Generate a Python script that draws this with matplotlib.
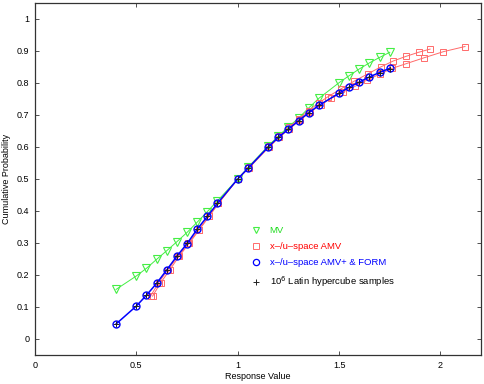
import matplotlib
matplotlib.use("Agg")
import matplotlib.pyplot as plt
from matplotlib.lines import Line2D

plt.rcParams['font.family'] = ['Liberation Sans', 'DejaVu Sans']

# MV (green triangles)
mv_x = [0.4, 0.5, 0.55, 0.6, 0.65, 0.7, 0.75, 0.8, 0.85, 0.9, 1.0, 1.05, 1.15, 1.2,
        1.25, 1.3, 1.35, 1.4, 1.5, 1.55, 1.6, 1.65, 1.7, 1.75]
mv_y = [0.155, 0.197, 0.221, 0.249, 0.276, 0.304, 0.333, 0.365, 0.398, 0.432, 0.5, 0.536,
        0.603, 0.634, 0.663, 0.690, 0.722, 0.752, 0.801, 0.823, 0.844, 0.863, 0.880, 0.896]

# x-space AMV (red squares, upper branch)
amvx_x = [0.57, 0.61, 0.655, 0.705, 0.757, 0.807, 0.858, 0.905, 1.0, 1.055, 1.155, 1.205,
          1.255, 1.30, 1.35, 1.40, 1.445, 1.51, 1.575, 1.643, 1.705, 1.768, 1.829, 1.892, 1.949]
amvx_y = [0.134, 0.176, 0.216, 0.258, 0.300, 0.341, 0.384, 0.424, 0.5, 0.536, 0.603, 0.633,
          0.661, 0.688, 0.714, 0.738, 0.757, 0.782, 0.806, 0.829, 0.850, 0.869, 0.883, 0.896, 0.906]

# u-space AMV (red squares, lower branch)
amvu_x = [0.58, 0.62, 0.665, 0.71, 0.762, 0.81, 0.86, 0.905, 1.0, 1.055, 1.155, 1.205, 1.255,
          1.305, 1.355, 1.41, 1.46, 1.52, 1.58, 1.64, 1.702, 1.763, 1.829, 1.920, 2.015, 2.121]
amvu_y = [0.134, 0.176, 0.216, 0.258, 0.300, 0.341, 0.384, 0.424, 0.5, 0.534, 0.600, 0.630, 0.657,
          0.683, 0.708, 0.732, 0.752, 0.772, 0.790, 0.810, 0.828, 0.846, 0.860, 0.879, 0.898, 0.914]

# x-/u-space AMV+ & FORM (blue circles)
form_x = [0.4, 0.5, 0.55, 0.6, 0.65, 0.7, 0.75, 0.8, 0.85, 0.9, 1.0, 1.05, 1.15, 1.2,
          1.25, 1.3, 1.35, 1.4, 1.5, 1.55, 1.6, 1.65, 1.7, 1.75]
form_y = [0.047, 0.103, 0.137, 0.174, 0.216, 0.259, 0.298, 0.343, 0.383, 0.424, 0.5, 0.533,
          0.600, 0.630, 0.656, 0.682, 0.707, 0.730, 0.768, 0.787, 0.803, 0.819, 0.833, 0.846]

# 10^6 Latin hypercube samples (black plus)
lhs_x = [0.4, 0.5, 0.55, 0.6, 0.65, 0.7, 0.75, 0.8, 0.85, 0.9, 1.0, 1.05, 1.15, 1.2,
         1.25, 1.3, 1.35, 1.4, 1.5, 1.55, 1.6, 1.65, 1.7, 1.75]
lhs_y = [0.047, 0.104, 0.137, 0.175, 0.216, 0.259, 0.299, 0.343, 0.383, 0.424, 0.5, 0.533,
         0.600, 0.630, 0.656, 0.682, 0.707, 0.730, 0.768, 0.786, 0.803, 0.818, 0.832, 0.845]

x_ticks = [0, 0.5, 1, 1.5, 2]
x_tick_labels = ['0', '0.5', '1', '1.5', '2']
y_ticks = [0, 0.1, 0.2, 0.3, 0.4, 0.5, 0.6, 0.7, 0.8, 0.9, 1]
y_tick_labels = ['0', '0.1', '0.2', '0.3', '0.4', '0.5', '0.6', '0.7', '0.8', '0.9', '1']

green = '#44ee44'
red = '#ff6a6a'
blue = '#0000ff'

fig = plt.figure(figsize=(4.85, 3.84), dpi=100)
ax = fig.add_axes([35/485, 29/384, 446/485, 352/384])

ax.plot(mv_x, mv_y, color=green, lw=0.7, marker='v', ms=6, mfc='none', mec=green, mew=0.8)
ax.plot(amvx_x, amvx_y, color=red, lw=0.7, marker='s', ms=4.5, mfc='none', mec=red, mew=0.7)
ax.plot(amvu_x, amvu_y, color=red, lw=0.7, marker='s', ms=4.5, mfc='none', mec=red, mew=0.7)
ax.plot(form_x, form_y, color=blue, lw=1.1, marker='o', ms=5, mfc='none', mec=blue, mew=1.0)
ax.plot(lhs_x, lhs_y, ls='none', marker='+', ms=5, color='#222222', mew=0.7)

ax.set_xlim(0, 2.2)
ax.set_ylim(-0.05, 1.05)
ax.set_xticks(x_ticks)
ax.set_xticklabels(x_tick_labels)
ax.set_yticks(y_ticks)
ax.set_yticklabels(y_tick_labels)
ax.tick_params(direction='in', length=3, width=0.6, labelsize=6.5, top=True, right=True,
               colors='#333333', labelcolor='black', pad=4)
for s in ax.spines.values():
    s.set_linewidth(0.9)
    s.set_color('#333333')

ax.set_xlabel('Response Value', fontsize=6.5, labelpad=2)
ax.set_ylabel('Cumulative Probability', fontsize=6.5, labelpad=4)

handles = [
    Line2D([], [], ls='none', marker='v', ms=5, mfc='none', mec=green, mew=0.8),
    Line2D([], [], ls='none', marker='s', ms=4, mfc='none', mec=red, mew=0.7),
    Line2D([], [], ls='none', marker='o', ms=4.5, mfc='none', mec=blue, mew=0.9),
    Line2D([], [], ls='none', marker='+', ms=5, color='#222222', mew=0.7),
]
labels = ['MV', 'x\u2013/u\u2013space AMV', 'x\u2013/u\u2013space AMV+ & FORM',
          '10$^6$ Latin hypercube samples']
leg = ax.legend(handles, labels, loc='upper left', bbox_to_anchor=(0.475, 0.377),
                frameon=False, fontsize=6.8, handlelength=1.2, handletextpad=0.8,
                labelspacing=0.75, borderaxespad=0)
for t, c in zip(leg.get_texts(), ['#22dd22', '#ff0000', '#0000ff', 'black']):
    t.set_color(c)

fig.savefig('out.png', dpi=100)
